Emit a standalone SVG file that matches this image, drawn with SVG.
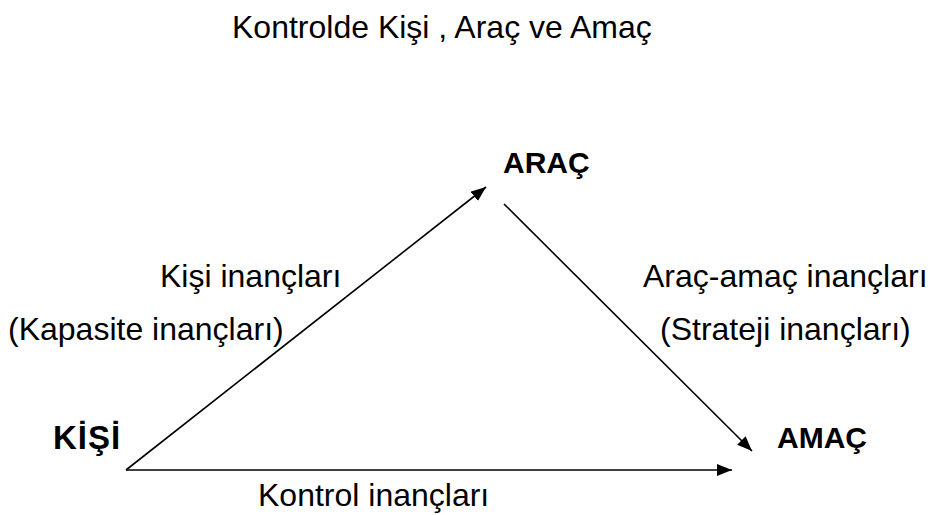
<svg xmlns="http://www.w3.org/2000/svg" width="931" height="515" viewBox="0 0 931 515">
<style>
text{font-family:"Liberation Sans",Arial,sans-serif;fill:#000}
.t{font-size:32px}
.b{font-size:30px;font-weight:bold}
.c{stroke:#000;stroke-width:1.6;fill:none}
</style>
<defs>
<marker id="ah" markerUnits="userSpaceOnUse" markerWidth="16" markerHeight="13" refX="15" refY="6" orient="auto">
<path d="M0,0 L15,6 L0,12 z" fill="#000"/>
</marker>
</defs>
<rect width="931" height="515" fill="#fff"/>
<text class="t" x="232" y="38">Kontrolde Kişi , Araç ve Amaç</text>
<g id="connectors">
<line class="c" x1="126" y1="470" x2="486" y2="187" marker-end="url(#ah)"/>
<line class="c" x1="504" y1="204" x2="752" y2="451" marker-end="url(#ah)"/>
<line class="c" x1="126" y1="470" x2="732" y2="470" marker-end="url(#ah)"/>
<text class="t" x="160" y="287">Kişi inançları</text>
<text class="t" x="8" y="340">(Kapasite inançları)</text>
<text class="t" x="643" y="287">Araç-amaç inançları</text>
<text class="t" x="660" y="340">(Strateji inançları)</text>
<text class="t" x="258" y="506">Kontrol inançları</text>
</g>
<g id="kisi"><text class="b" x="53" y="449" style="font-size:33px" letter-spacing="1">KİŞİ</text></g>
<g id="arac"><text class="b" x="503" y="173">ARAÇ</text></g>
<g id="amac"><text class="b" x="777" y="448">AMAÇ</text></g>
</svg>
